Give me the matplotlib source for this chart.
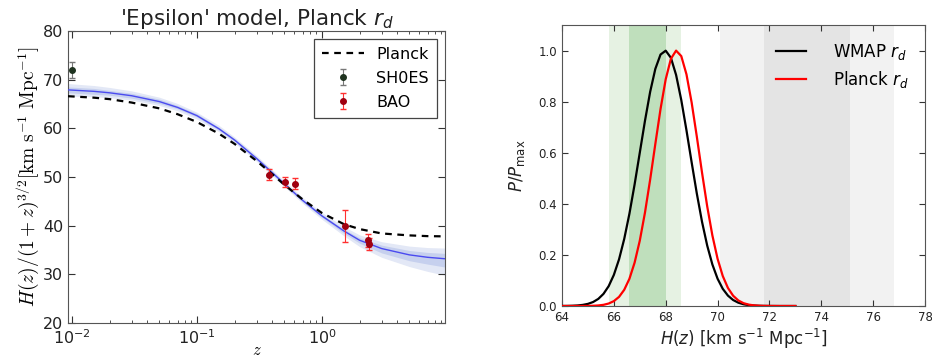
import matplotlib
matplotlib.use("Agg")
import matplotlib.pyplot as plt
import numpy as np

# ---------------- Left panel data ----------------
z_grid = [0.0093, 0.015, 0.02, 0.03, 0.05, 0.07, 0.1, 0.15, 0.2, 0.3,
          0.4, 0.5, 0.7, 1.0, 1.5, 2.0, 3.0, 5.0, 7.0, 9.64]
planck_curve = [66.6, 66.3, 66.0, 65.3, 64.1, 62.9, 61.3, 58.9, 56.8, 53.3,
                50.6, 48.4, 45.4, 42.6, 40.3, 39.3, 38.4, 38.0, 37.85, 37.8]
eps_curve = [67.9, 67.6, 67.3, 66.7, 65.5, 64.3, 62.6, 59.9, 57.6, 53.8,
             50.9, 48.6, 45.2, 42.0, 38.9, 37.0, 35.3, 34.0, 33.5, 33.2]
eps_lo2 = [66.6, 66.5, 66.3, 65.8, 64.7, 63.6, 61.9, 59.3, 57.0, 53.2,
           50.3, 48.0, 44.6, 41.3, 37.9, 35.7, 33.5, 31.6, 30.6, 29.8]
eps_hi2 = [69.2, 68.8, 68.4, 67.7, 66.4, 65.1, 63.3, 60.6, 58.2, 54.4,
           51.5, 49.2, 45.8, 42.7, 39.8, 38.1, 36.7, 35.8, 35.5, 35.4]
eps_lo1 = [67.3, 67.0, 66.8, 66.2, 65.1, 64.0, 62.3, 59.6, 57.3, 53.5,
           50.6, 48.3, 44.9, 41.7, 38.4, 36.4, 34.4, 32.8, 32.1, 31.5]
eps_hi1 = [68.5, 68.2, 67.8, 67.2, 66.0, 64.7, 63.0, 60.2, 57.9, 54.1,
           51.2, 48.9, 45.5, 42.3, 39.3, 37.5, 36.0, 34.9, 34.5, 34.3]

shoes_z = [0.01]
shoes_h = [72.0]
shoes_err = [1.7]

bao_z = [0.38, 0.51, 0.61, 1.52, 2.33, 2.36]
bao_h = [50.5, 49.0, 48.6, 40.0, 37.0, 36.2]
bao_err = [1.2, 1.1, 1.1, 3.3, 1.3, 1.2]

# ---------------- Right panel data ----------------
h_grid = [64.0, 64.2, 64.4, 64.6, 64.8, 65.0, 65.2, 65.4, 65.6, 65.8,
          66.0, 66.2, 66.4, 66.6, 66.8, 67.0, 67.2, 67.4, 67.6, 67.8,
          68.0, 68.2, 68.4, 68.6, 68.8, 69.0, 69.2, 69.4, 69.6, 69.8,
          70.0, 70.2, 70.4, 70.6, 70.8, 71.0, 71.2, 71.4, 71.6, 71.8,
          72.0, 72.2, 72.4, 72.6, 72.8, 73.0]
wmap_p = [0.0002, 0.0004, 0.0010, 0.0021, 0.0043, 0.0083, 0.0156, 0.0278, 0.0475, 0.0777,
          0.1218, 0.1827, 0.2626, 0.3612, 0.4758, 0.6002, 0.7249, 0.8384, 0.9284, 0.9844,
          0.9995, 0.9717, 0.9046, 0.8063, 0.6881, 0.5624, 0.4401, 0.3298, 0.2366, 0.1625,
          0.1069, 0.0673, 0.0406, 0.0234, 0.0130, 0.0069, 0.0035, 0.0017, 0.0008, 0.0004,
          0.0002, 0.0001, 0.0, 0.0, 0.0, 0.0]
planck_p = [0.0, 0.0, 0.0, 0.0001, 0.0001, 0.0004, 0.0009, 0.0021, 0.0046, 0.0097,
            0.0191, 0.0357, 0.0634, 0.1065, 0.1696, 0.2558, 0.3656, 0.4949, 0.6347, 0.7711,
            0.8876, 0.9678, 0.9997, 0.9783, 0.9070, 0.7966, 0.6628, 0.5224, 0.3901, 0.2760,
            0.1849, 0.1174, 0.0706, 0.0402, 0.0217, 0.0111, 0.0054, 0.0025, 0.0011, 0.0004,
            0.0002, 0.0001, 0.0, 0.0, 0.0, 0.0]

green_outer = (65.8, 68.6)
green_inner = (66.6, 68.0)
gray_outer = (70.1, 76.8)
gray_inner = (71.8, 75.1)

# ---------------- Figure ----------------
fig = plt.figure(figsize=(9.32, 3.58), dpi=100)
edge = "#555555"

# Left axes
ax1 = fig.add_axes([68/932, 1-323/358, (445-68)/932, (323-31)/358])
ax1.fill_between(z_grid, eps_lo2, eps_hi2, color="#e3e8f6", lw=0, zorder=1)
ax1.fill_between(z_grid, eps_lo1, eps_hi1, color="#c6d0ee", lw=0, zorder=2)
ax1.plot(z_grid, eps_curve, color="#4a4af0", lw=1.0, zorder=3)
ax1.plot(z_grid, planck_curve, color="black", ls="--", lw=1.6, dashes=(3, 2.5),
         label="Planck", zorder=4)
ax1.errorbar(shoes_z, shoes_h, yerr=shoes_err, fmt="o", ms=4, color="#1f3320",
             ecolor="#777777", elinewidth=0.8, capsize=2, label="SH0ES", zorder=5)
ax1.errorbar(bao_z, bao_h, yerr=bao_err, fmt="o", ms=4, color="#a00010",
             ecolor="#ff3030", elinewidth=0.8, capsize=2, label="BAO", zorder=5)
ax1.set_xscale("log")
ax1.set_xlim(0.0093, 9.64)
ax1.set_ylim(20, 80)
ax1.set_yticks([20, 30, 40, 50, 60, 70, 80])
ax1.tick_params(which="both", direction="in", top=True, right=True,
                labelsize=11.5, colors="#333333", labelcolor="#222222")
ax1.tick_params(which="major", length=5)
ax1.tick_params(which="minor", length=2.5)
for s in ax1.spines.values():
    s.set_color(edge)
ax1.set_title("'Epsilon' model, Planck $r_d$", fontsize=15.5, pad=3,
              color="#222222")
ax1.set_ylabel(r"$H(z)/(1+z)^{3/2}[\mathrm{km\ s^{-1}\ Mpc^{-1}}]$",
               fontsize=14, math_fontfamily="cm", labelpad=1)
ax1.set_xlabel(r"$z$", fontsize=12, math_fontfamily="cm", labelpad=-4)
leg1 = ax1.legend(loc="upper right", fontsize=11.5, fancybox=False,
                  framealpha=1, edgecolor="#444444", numpoints=1,
                  handlelength=2.6, borderpad=0.5, labelspacing=0.55)
leg1.get_frame().set_linewidth(0.9)

# Right axes
ax2 = fig.add_axes([562/932, 1-306/358, (925-562)/932, (306-25)/358])
ax2.axvspan(*green_outer, color="#e6f2e3", lw=0, zorder=0)
ax2.axvspan(*green_inner, color="#bfdfbc", lw=0, zorder=0)
ax2.axvspan(*gray_outer, color="#f2f2f2", lw=0, zorder=0)
ax2.axvspan(*gray_inner, color="#e4e4e4", lw=0, zorder=0)
ax2.plot(h_grid, wmap_p, color="black", lw=1.6, label="WMAP $r_d$", zorder=3)
ax2.plot(h_grid, planck_p, color="#ff0000", lw=1.6, label="Planck $r_d$", zorder=3)
ax2.set_xlim(64, 78)
ax2.set_ylim(0, 1.1)
ax2.set_xticks(np.arange(64, 79, 2))
ax2.set_yticks([0.0, 0.2, 0.4, 0.6, 0.8, 1.0])
ax2.tick_params(which="both", direction="in", top=True, right=True,
                labelsize=8.5, length=4, colors="#333333", labelcolor="#222222")
for s in ax2.spines.values():
    s.set_color(edge)
ax2.set_xlabel(r"$H(z)$ [km s$^{-1}$ Mpc$^{-1}$]", fontsize=12, labelpad=2,
               color="#222222")
ax2.set_ylabel(r"$P/P_{\rm max}$", fontsize=12, labelpad=8, color="#222222")
ax2.legend(loc="upper right", fontsize=12, frameon=False, handlelength=1.8,
           handletextpad=1.6, labelspacing=0.45, borderaxespad=0.6)

fig.savefig("out.png", dpi=100)
